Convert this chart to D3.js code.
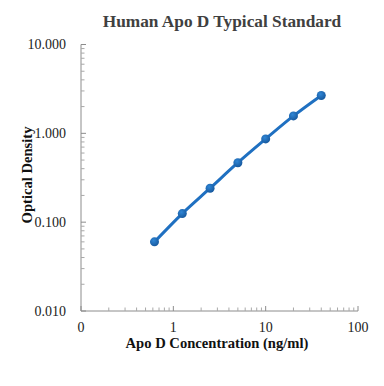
<!DOCTYPE html>
<html>
<head>
<meta charset="utf-8">
<script src="https://cdn.jsdelivr.net/npm/d3@7"></script>
<style>
  body { margin: 0; background: #fff; }
  text { font-family: "Liberation Serif", "Times New Roman", serif; }
</style>
</head>
<body>
<div id="chart"></div>
<script>
var svgWidth = 384;
var svgHeight = 386;

var margin = { top: 44.5, right: 26, bottom: 75, left: 81 };
var width = svgWidth - margin.left - margin.right;
var height = svgHeight - margin.top - margin.bottom;

// Standard curve data
var concentration = [0.625, 1.25, 2.5, 5, 10, 20, 40];
var opticalDensity = [0.060, 0.125, 0.241, 0.467, 0.865, 1.57, 2.67];
var xTicks = [0.1, 1, 10, 100];
var xTickLabels = ["0", "1", "10", "100"];
var yTicks = [0.01, 0.1, 1, 10];
var yTickLabels = ["0.010", "0.100", "1.000", "10.000"];

var svg = d3.select("#chart")
  .append("svg")
  .attr("width", svgWidth)
  .attr("height", svgHeight);

var chartGroup = svg.append("g")
  .attr("transform", `translate(${margin.left}, ${margin.top})`);

var xScale = d3.scaleLog().domain([0.1, 100]).range([0, width]);
var yScale = d3.scaleLog().domain([0.01, 10]).range([height, 0]);

// minor ticks (2..9 per decade)
var xMinor = [], yMinor = [];
[0.1, 1, 10].forEach(function(d) {
  for (var i = 2; i <= 9; i++) xMinor.push(d * i);
});
[0.01, 0.1, 1].forEach(function(d) {
  for (var i = 2; i <= 9; i++) yMinor.push(d * i);
});

var axisColor = "#8c8c8c";

// x axis
var xAxis = chartGroup.append("g")
  .attr("transform", `translate(0, ${height})`);
xAxis.append("line")
  .attr("x1", 0).attr("x2", width)
  .attr("stroke", axisColor).attr("stroke-width", 1);
xAxis.selectAll(".minor")
  .data(xMinor).enter().append("line")
  .attr("x1", d => xScale(d)).attr("x2", d => xScale(d))
  .attr("y1", 0).attr("y2", -3.5)
  .attr("stroke", "#a8a8a8");
xAxis.selectAll(".major")
  .data(xTicks).enter().append("line")
  .attr("x1", d => xScale(d)).attr("x2", d => xScale(d))
  .attr("y1", 0).attr("y2", -5)
  .attr("stroke", axisColor);
xAxis.selectAll(".lbl")
  .data(xTicks).enter().append("text")
  .attr("x", d => xScale(d))
  .attr("y", 21)
  .attr("text-anchor", "middle")
  .attr("font-size", "14px")
  .attr("fill", "#222")
  .text((d, i) => xTickLabels[i]);

// y axis
var yAxis = chartGroup.append("g");
yAxis.append("line")
  .attr("y1", 0).attr("y2", height)
  .attr("stroke", axisColor).attr("stroke-width", 1);
yAxis.selectAll(".minor")
  .data(yMinor).enter().append("line")
  .attr("y1", d => yScale(d)).attr("y2", d => yScale(d))
  .attr("x1", 0).attr("x2", 3.5)
  .attr("stroke", "#a8a8a8");
yAxis.selectAll(".major")
  .data(yTicks).enter().append("line")
  .attr("y1", d => yScale(d)).attr("y2", d => yScale(d))
  .attr("x1", 0).attr("x2", 5)
  .attr("stroke", axisColor);
yAxis.selectAll(".lbl")
  .data(yTicks).enter().append("text")
  .attr("x", -15)
  .attr("y", d => yScale(d))
  .attr("dy", "0.35em")
  .attr("text-anchor", "end")
  .attr("font-size", "14px")
  .attr("fill", "#222")
  .text((d, i) => yTickLabels[i]);

// smooth curve
var data = concentration.map((c, i) => ({ x: c, y: opticalDensity[i] }));
var line = d3.line()
  .x(d => xScale(d.x))
  .y(d => yScale(d.y))
  .curve(d3.curveCatmullRom);

chartGroup.append("path")
  .datum(data)
  .attr("d", line)
  .attr("fill", "none")
  .attr("stroke", "#1f70c1")
  .attr("stroke-width", 3)
  .attr("stroke-linecap", "round");

var grad = svg.append("defs").append("radialGradient")
  .attr("id", "dot").attr("cx", "40%").attr("cy", "35%").attr("r", "65%");
grad.append("stop").attr("offset", "0%").attr("stop-color", "#2f86d6");
grad.append("stop").attr("offset", "100%").attr("stop-color", "#17599e");

chartGroup.selectAll("circle")
  .data(data).enter().append("circle")
  .attr("cx", d => xScale(d.x))
  .attr("cy", d => yScale(d.y))
  .attr("r", 4.5)
  .attr("fill", "url(#dot)");

// titles
svg.append("text")
  .attr("x", 222)
  .attr("y", 27)
  .attr("text-anchor", "middle")
  .attr("font-size", "17.3px")
  .attr("font-weight", "bold")
  .attr("fill", "#404040")
  .text("Human Apo D Typical Standard");

svg.append("text")
  .attr("x", 217)
  .attr("y", 348)
  .attr("text-anchor", "middle")
  .attr("font-size", "14.6px")
  .attr("font-weight", "bold")
  .attr("fill", "#111")
  .text("Apo D Concentration (ng/ml)");

svg.append("text")
  .attr("transform", "translate(32, 175) rotate(-90)")
  .attr("text-anchor", "middle")
  .attr("font-size", "14.6px")
  .attr("font-weight", "bold")
  .attr("fill", "#111")
  .text("Optical Density");
</script>
</body>
</html>
